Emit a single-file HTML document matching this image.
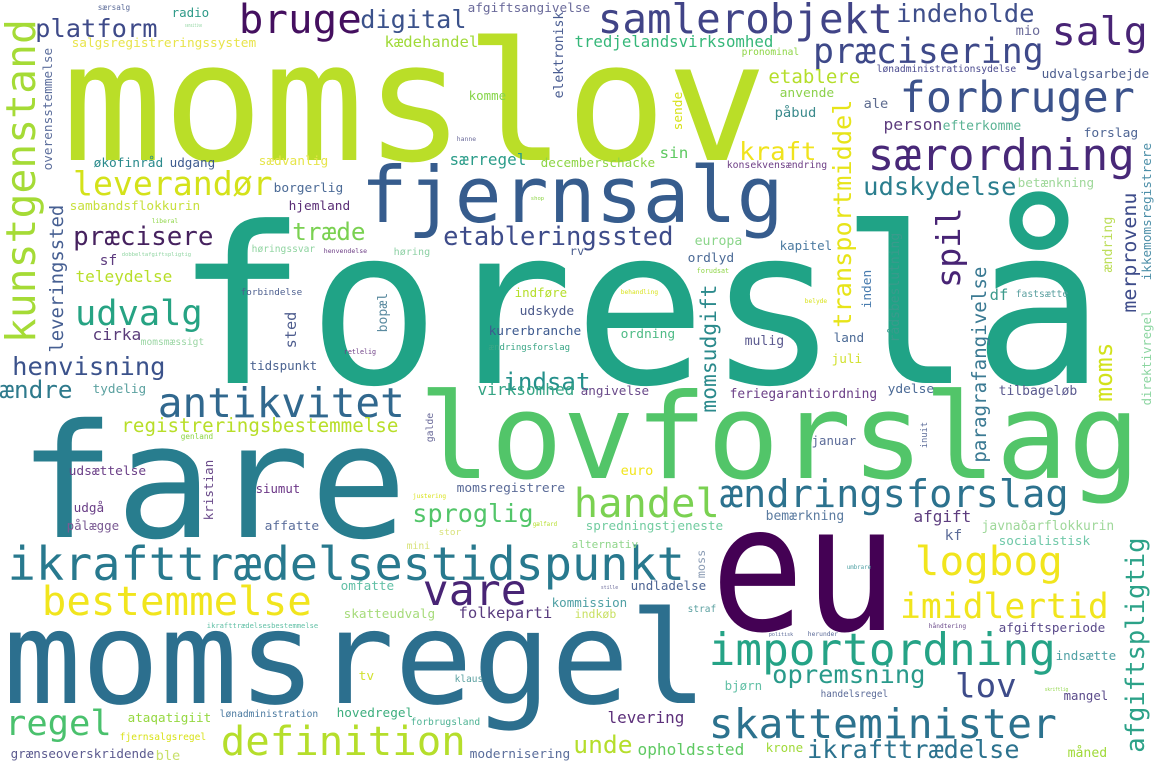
<!DOCTYPE html>
<html><head><meta charset="utf-8"><style>
html,body{margin:0;padding:0;background:#fff;width:1155px;height:770px;overflow:hidden}
svg{display:block}
text{font-family:"DejaVu Sans Mono","Liberation Mono",monospace}
</style></head><body>
<svg id="cloud" width="1155" height="770" viewBox="0 0 1155 770" xmlns="http://www.w3.org/2000/svg">
<rect width="1155" height="770" fill="#fff"/>
</svg>
<script>
// [word, ink-x, baseline-y (or start y for vertical), ink length, color, vertical, fixed size]
const words = [
["momslov",67,160,697,"#bade28",0],
["foreslå",181,383,920,"#20a386",0],
["fare",23,537,381,"#287d8e",0],
["momsregel",7,703,698,"#2c6f8e",0],
["eu",716,630,178,"#440154",0,175],
["lovforslag",422,478,716,"#52c569",0],
["ikrafttrædelsestidspunkt",9,580,675,"#28798e",0],
["fjernsalg",363,222,419,"#365c8d",0],
["samlerobjekt",599,33,293,"#414487",0],
["særordning",869,170,265,"#482878",0],
["forbruger",901,112,233,"#3b528b",0],
["præcisering",814,63,229,"#3e4989",0],
["salg",1053,45,94,"#482475",0],
["indeholde",897,22,137,"#3f4f8b",0],
["bruge",240,33,121,"#440f5f",0],
["digital",361,28,105,"#3b528b",0],
["platform",36,37,121,"#3e4a89",0],
["kunstgenstand",35,342,322,"#a5db36",1],
["leverandør",74,195,198,"#d4e21a",0],
["præcisere",74,245,139,"#46225f",0],
["træde",293,240,72,"#7ad151",0],
["etableringssted",444,245,229,"#3e4c8a",0],
["udvalg",76,325,126,"#26a383",0],
["henvisning",13,375,152,"#3b528b",0],
["indsat",504,390,86,"#24908b",0],
["antikvitet",159,417,245,"#31688e",0],
["registreringsbestemmelse",122,432,276,"#b8de29",0],
["sproglig",413,522,120,"#52c569",0],
["handel",575,517,144,"#7ad151",0],
["ændringsforslag",721,507,347,"#2c728e",0],
["logbog",916,575,146,"#f1e51d",0],
["imidlertid",901,618,207,"#f1e51d",0],
["importordning",710,665,345,"#25a386",0],
["skatteminister",710,738,346,"#2c728e",0],
["ikrafttrædelse",808,758,211,"#2c728e",0],
["opremsning",773,683,152,"#299a8a",0],
["lov",956,697,60,"#3e4c8a",0],
["vare",424,605,102,"#482475",0],
["bestemmelse",43,615,268,"#f1e51d",0],
["regel",6,735,105,"#4ac16d",0],
["definition",222,755,243,"#b5de2b",0],
["unde",574,753,58,"#b5de2b",0],
["transportmiddel",851,327,227,"#e7e419",1],
["spil",960,287,79,"#482475",1],
["merprovenu",1136,312,119,"#3e4c8a",1],
["afgiftspligtig",1144,752,214,"#2ca288",1],
["kraft",740,160,76,"#f0e31d",0],
["udskydelse",864,195,152,"#2b7e8e",0],
["moms",1112,401,58,"#d2e21b",1],
["paragrafangivelse",986,462,195,"#3b7a93",1],
["momsudgift",716,412,127,"#2b8a8c",1],
["leveringssted",63,352,147,"#465f92",1],
["overensstemmelse",52,170,122,"#5c6e9c",1],
["elektronisk",563,98,86,"#4a5d92",1],
["ikkemomsregistrere",1151,280,137,"#4d8fa8",1],
["direktivregel",1151,405,95,"#8bd5a0",1],
["ændring",1112,272,55,"#bdde5a",1],
["rådsbeslutning",899,342,109,"#3a9a8c",1],
["inden",871,308,38,"#487bae",1],
["sende",682,130,38,"#d8e219",1],
["kristian",213,520,60,"#6a4a8a",1],
["bopæl",387,332,39,"#5b8ba0",1],
["sted",296,348,36,"#4e5d8e",1],
["moss",705,578,28,"#8c9db5",1],
["inuit",927,448,26,"#5b6b98",1],
["galde",433,442,29,"#6b6b9a",1],
["tredjelandsvirksomhed",575,47,198,"#35b779",0],
["afgiftsangivelse",468,12,122,"#6a6a9a",0],
["salgsregistreringssystem",72,47,184,"#e8e44b",0],
["kædehandel",385,47,93,"#a0da39",0],
["radio",172,17,37,"#2e9a88",0],
["komme",469,100,37,"#86d549",0],
["etablere",769,83,91,"#b5de2b",0],
["anvende",780,97,54,"#8cd14c",0],
["påbud",775,117,41,"#3a8a8c",0],
["ale",864,108,24,"#5d6b8f",0],
["mio",1016,35,24,"#6b6b9a",0],
["lønadministrationsydelse",877,72,139,"#4b4b8f",0],
["udvalgsarbejde",1042,78,107,"#4f5f8f",0],
["person",884,130,58,"#5d3c7e",0],
["efterkomme",943,130,78,"#5ab394",0],
["forslag",1084,137,54,"#4e6594",0],
["sin",660,158,28,"#5ec962",0],
["konsekvensændring",727,168,100,"#6e3f86",0],
["betænkning",1018,187,76,"#9fd89a",0],
["decemberschacke",541,167,114,"#8dd544",0],
["økofinråd",94,167,69,"#2a8a8c",0],
["udgang",170,167,45,"#3d5a8f",0],
["sædvanlig",259,165,69,"#e6e54a",0],
["særregel",450,165,76,"#2a9c89",0],
["borgerlig",274,192,69,"#4b6a96",0],
["sambandsflokkurin",70,210,130,"#c8e03c",0],
["hjemland",289,210,61,"#5a2d76",0],
["sf",100,265,17,"#5e3c7f",0],
["høringssvar",252,252,63,"#8fd4a0",0],
["høring",394,255,36,"#8dd0a4",0],
["rv",570,255,14,"#4c5f8f",0],
["teleydelse",76,282,96,"#b8de29",0],
["forbindelse",241,295,61,"#4d5f8f",0],
["indføre",515,297,52,"#b5de2b",0],
["udskyde",520,315,54,"#4c5a8b",0],
["cirka",93,340,48,"#5a3c7a",0],
["momsmæssigt",141,345,63,"#9bd6a4",0],
["kurerbranche",489,335,92,"#3d5a8f",0],
["ændringsforslag",489,350,81,"#3aa686",0],
["tidspunkt",250,370,67,"#4b6391",0],
["europa",695,245,47,"#8bd58a",0],
["kapitel",780,250,52,"#4b7aa0",0],
["ordlyd",688,262,46,"#4b6a96",0],
["df",990,300,18,"#3b9a8b",0],
["fastsætte",1016,297,52,"#5ba0a0",0],
["ordning",621,338,54,"#4fbb86",0],
["mulig",745,345,39,"#5b5a8f",0],
["land",834,342,30,"#4b6a96",0],
["juli",832,363,30,"#d1e12f",0],
["ændre",0,398,72,"#2e7a8c",0],
["tydelig",93,393,53,"#5ba1a0",0],
["virksomhed",478,395,96,"#35a484",0],
["angivelse",581,395,68,"#6a4a8a",0],
["feriegarantiordning",730,398,147,"#6b3f87",0],
["ydelse",888,393,46,"#4b6a96",0],
["tilbageløb",999,395,78,"#5b5a8f",0],
["udsættelse",69,475,77,"#6b3f87",0],
["siumut",256,493,44,"#6b3586",0],
["momsregistrere",457,492,108,"#5b6b98",0],
["udgå",74,512,30,"#6a3f87",0],
["pålægge",67,530,52,"#7a5a93",0],
["affatte",265,530,54,"#5a6d9b",0],
["euro",621,475,32,"#f1e51d",0],
["januar",812,445,44,"#5b6b98",0],
["afgift",914,522,57,"#5c3c7e",0],
["bemærkning",766,520,78,"#5b7ba0",0],
["spredningstjeneste",586,530,137,"#72cca0",0],
["javnaðarflokkurin",982,530,132,"#9fd89a",0],
["kf",945,540,17,"#5b6b98",0],
["socialistisk",999,545,91,"#6fc8a8",0],
["alternativ",572,548,66,"#8fd58a",0],
["stor",439,535,22,"#d8e27a",0],
["mini",407,549,23,"#d8e27a",0],
["omfatte",341,590,53,"#62c0a6",0],
["undladelse",631,590,75,"#4e6594",0],
["kommission",552,607,75,"#4fa0a4",0],
["straf",688,612,28,"#5ba0a0",0],
["skatteudvalg",344,618,91,"#a6db7a",0],
["folkeparti",459,618,93,"#5a3c7f",0],
["indkøb",575,618,41,"#c9e063",0],
["afgiftsperiode",999,632,106,"#5a4a8a",0],
["indsætte",1056,660,60,"#4fa0a4",0],
["tv",359,680,15,"#d1e12f",0],
["klaus",455,682,28,"#5ba0a0",0],
["bjørn",725,690,37,"#62c0a6",0],
["handelsregel",821,697,67,"#5b6b98",0],
["mangel",1064,700,44,"#5a4a8a",0],
["lønadministration",220,717,98,"#4b7aa0",0],
["hovedregel",337,717,76,"#3dae7e",0],
["ataqatigiit",128,722,83,"#95d840",0],
["levering",608,723,76,"#5c2f7a",0],
["forbrugsland",411,725,69,"#4fb394",0],
["fjernsalgsregel",120,740,86,"#d8e219",0],
["grænseoverskridende",11,758,143,"#5b5a8f",0],
["ble",156,760,24,"#c9e06a",0],
["modernisering",470,758,100,"#5a6d9b",0],
["opholdssted",638,755,106,"#5ec962",0],
["krone",766,752,37,"#a0da39",0],
["måned",1068,757,39,"#a0da39",0],
["særsalg",98,10,32,"#5b6b98",0],
["sensitive",185,27,17,"#8fd4a0",0],
["hanne",457,141,19,"#6b6b9a",0],
["shop",531,200,13,"#8dd544",0],
["liberal",152,223,26,"#8dd544",0],
["dobbeltafgiftspligtig",122,256,69,"#8fd4a0",0],
["henvendelse",324,253,43,"#6e3f86",0],
["retlelig",344,354,32,"#6e3f86",0],
["pronominal",742,55,57,"#8dd544",0],
["behandling",621,294,37,"#d8e219",0],
["belyde",805,303,22,"#d8e219",0],
["forudsat",697,273,32,"#8dd544",0],
["genland",181,439,32,"#8dd544",0],
["justering",413,498,33,"#d8e219",0],
["gælfard",533,526,24,"#b5de2b",0],
["ikrafttrædelsesbestemmelse",207,628,111,"#62c0a6",0],
["umbrare",847,569,24,"#4fa0a4",0],
["stille",601,589,17,"#6b6b9a",0],
["håndtering",929,628,37,"#6a4a8a",0],
["politisk",769,636,24,"#5b6b98",0],
["herunder",808,636,30,"#5b6b98",0],
["skriftlig",1045,691,23,"#8dd544",0]
];
const svg = document.getElementById('cloud');
const NS = 'http://www.w3.org/2000/svg';
words.forEach(w => {
  const [txt, x, y, len, col, vert, fs] = w;
  const n = [...txt].length;
  const size = fs || Math.max(5, len / (0.602 * n));
  const adv = len + 0.05 * size;
  const t = document.createElementNS(NS, 'text');
  
  
  let px = x, py = y;
  if (vert) py = y + 0.03 * size; else px = x - 0.03 * size;
  t.setAttribute('x', px.toFixed(1));
  t.setAttribute('y', py.toFixed(1));
  t.setAttribute('font-size', size.toFixed(1));
  t.setAttribute('fill', col);
  t.setAttribute('textLength', adv.toFixed(1));
  t.setAttribute('lengthAdjust', 'spacingAndGlyphs');
  if (vert) t.setAttribute('transform', `rotate(-90 ${px.toFixed(1)} ${py.toFixed(1)})`);
  t.textContent = txt;
  svg.appendChild(t);
});
</script>
</body></html>
